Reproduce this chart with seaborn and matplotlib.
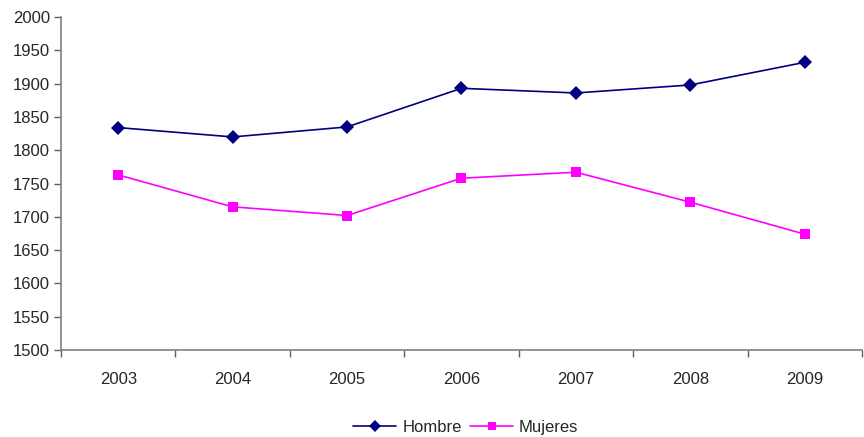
import pandas as pd
import matplotlib.pyplot as plt
import seaborn as sns
from matplotlib.ticker import MultipleLocator, FixedLocator

years = ['2003', '2004', '2005', '2006', '2007', '2008', '2009']
hombre = [1834, 1820, 1835, 1893, 1886, 1898, 1932]
mujeres = [1763, 1715, 1702, 1758, 1767, 1722, 1674]

data = pd.DataFrame({
    'year': years * 2,
    'value': hombre + mujeres,
    'serie': ['Hombre'] * len(years) + ['Mujeres'] * len(years),
})

sns.set_style('white')
plt.rcParams['font.family'] = ['Liberation Sans', 'DejaVu Sans']

fig = plt.figure(figsize=(8.64, 4.37), dpi=100)
ax = fig.add_axes([0.0706, 0.199, 0.927, 0.762])

sns.lineplot(data=data, x='year', y='value', hue='serie', style='serie',
             palette={'Hombre': '#000080', 'Mujeres': '#FF00FF'},
             markers={'Hombre': 'D', 'Mujeres': 's'},
             dashes=False, linewidth=1.2, markersize=7,
             markeredgewidth=0, ax=ax, legend=False)

ax.set_xlim(-0.5, len(years) - 0.5)
ax.set_ylim(1500, 2000)
ax.yaxis.set_major_locator(MultipleLocator(50))
ax.set_xticks(range(len(years)))
ax.set_xticklabels(years)
ax.xaxis.set_minor_locator(FixedLocator([i - 0.5 for i in range(len(years) + 1)]))
ax.tick_params(axis='x', which='major', bottom=False, labelsize=12, pad=12)
ax.tick_params(axis='x', which='minor', bottom=True, length=5, width=1,
               color='#606060', direction='out')
ax.tick_params(axis='y', left=True, length=5, width=1, color='#606060',
               direction='out', labelsize=12, pad=3)
ax.set_xlabel('')
ax.set_ylabel('')

for side in ['top', 'right']:
    ax.spines[side].set_visible(False)
for side in ['left', 'bottom']:
    ax.spines[side].set_color('#808080')
    ax.spines[side].set_linewidth(1.2)

handles = [
    plt.Line2D([], [], color='#000080', marker='D', markersize=6, markeredgewidth=0, lw=1.2),
    plt.Line2D([], [], color='#FF00FF', marker='s', markersize=6, markeredgewidth=0, lw=1.2),
]
fig.legend(handles, ['Hombre', 'Mujeres'], loc='lower center', ncol=2,
           frameon=False, fontsize=12, bbox_to_anchor=(0.539, -0.03),
           handlelength=2.6, columnspacing=0.5, handletextpad=0.35)

fig.savefig('out.png', dpi=100)
